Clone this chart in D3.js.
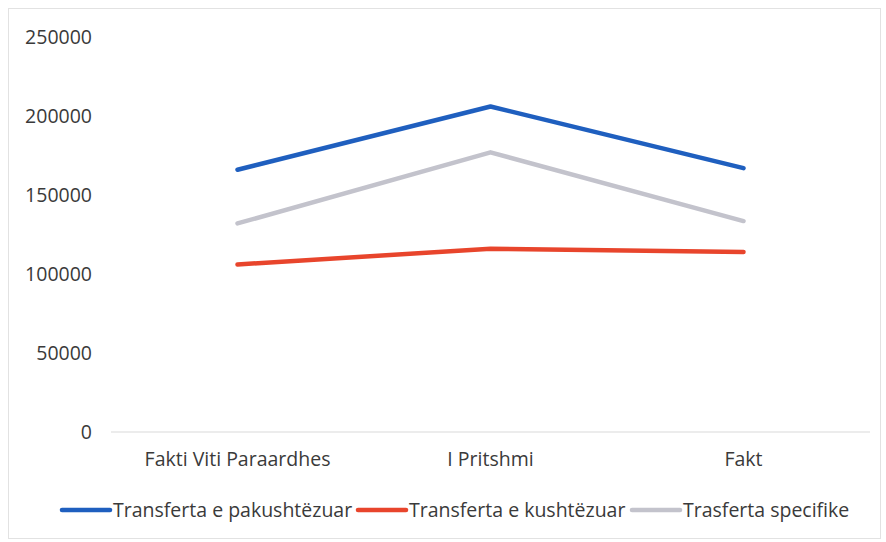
<!DOCTYPE html>
<html>
<head>
<meta charset="utf-8">
<script src="https://cdn.jsdelivr.net/npm/d3@7"></script>
<style>
  body { margin: 0; background: #fff; }
  svg { display: block; }
</style>
</head>
<body>
<div id="chart"></div>
<script>
var categories = ["Fakti Viti Paraardhes", "I Pritshmi", "Fakt"];
var seriesNames = ["Transferta e pakushtëzuar", "Transferta e kushtëzuar", "Trasferta specifike"];
var pakushtezuar = [166000, 206000, 167000];
var kushtezuar = [106000, 116000, 114000];
var specifike = [132000, 177000, 133500];
var yTicks = [0, 50000, 100000, 150000, 200000, 250000];

var colors = ["#1f5fbf", "#e8452c", "#c3c3cc"];
var series = [pakushtezuar, kushtezuar, specifike];

var width = 886, height = 542;
var margin = {top: 37, right: 16, bottom: 110, left: 111};
var innerW = width - margin.left - margin.right;
var innerH = height - margin.top - margin.bottom;

var svg = d3.select("#chart").append("svg")
    .attr("width", width)
    .attr("height", height);

// outer frame
svg.append("rect")
    .attr("x", 8.5).attr("y", 8.5)
    .attr("width", width - 14).attr("height", height - 12)
    .attr("fill", "none")
    .attr("stroke", "#e2e2e2");

var g = svg.append("g")
    .attr("transform", "translate(" + margin.left + "," + margin.top + ")");

var x = d3.scaleBand()
    .domain(categories)
    .range([0, innerW])
    .padding(0);

var y = d3.scaleLinear()
    .domain([0, 250000])
    .range([innerH, 0]);

var yAxis = d3.axisLeft(y)
    .tickValues(yTicks)
    .tickFormat(d3.format("d"))
    .tickSize(0)
    .tickPadding(19);

g.append("g")
    .attr("class", "yAxis")
    .call(yAxis)
    .call(function(s) {
        s.select(".domain").remove();
        s.selectAll(".tick text")
            .attr("fill", "#3a3a3a")
            .style("font-family", "'Open Sans', sans-serif")
            .style("font-size", "19.5px");
    });

// baseline
g.append("line")
    .attr("x1", 0).attr("x2", innerW)
    .attr("y1", y(0)).attr("y2", y(0))
    .attr("stroke", "#d9d9d9")
    .attr("stroke-width", 1);

var xAxis = d3.axisBottom(x).tickSize(0).tickPadding(20);

g.append("g")
    .attr("class", "xAxis")
    .attr("transform", "translate(0," + innerH + ")")
    .call(xAxis)
    .call(function(s) {
        s.select(".domain").remove();
        s.selectAll(".tick text")
            .attr("fill", "#3a3a3a")
            .style("font-family", "'Open Sans', sans-serif")
            .style("font-size", "19.5px");
    });

var line = d3.line()
    .x(function(d, i) { return x(categories[i]) + x.bandwidth() / 2; })
    .y(function(d) { return y(d); });

// draw order: red, gray, blue on top
[1, 2, 0].forEach(function(k) {
    g.append("path")
        .datum(series[k])
        .attr("fill", "none")
        .attr("stroke", colors[k])
        .attr("stroke-width", 4.5)
        .attr("stroke-linecap", "round")
        .attr("stroke-linejoin", "round")
        .attr("d", line);
});

// legend
var legendX = [62, 358, 632];
var legend = svg.append("g").attr("transform", "translate(0,510)");
seriesNames.forEach(function(name, i) {
    var item = legend.append("g").attr("transform", "translate(" + legendX[i] + ",0)");
    item.append("line")
        .attr("x1", 0).attr("x2", 48)
        .attr("stroke", colors[i])
        .attr("stroke-width", 4.5)
        .attr("stroke-linecap", "round");
    item.append("text")
        .attr("x", 51)
        .attr("dy", "0.35em")
        .attr("fill", "#3a3a3a")
        .style("font-family", "'Open Sans', sans-serif")
        .style("font-size", "19.5px")
        .text(name);
});
</script>
</body>
</html>
